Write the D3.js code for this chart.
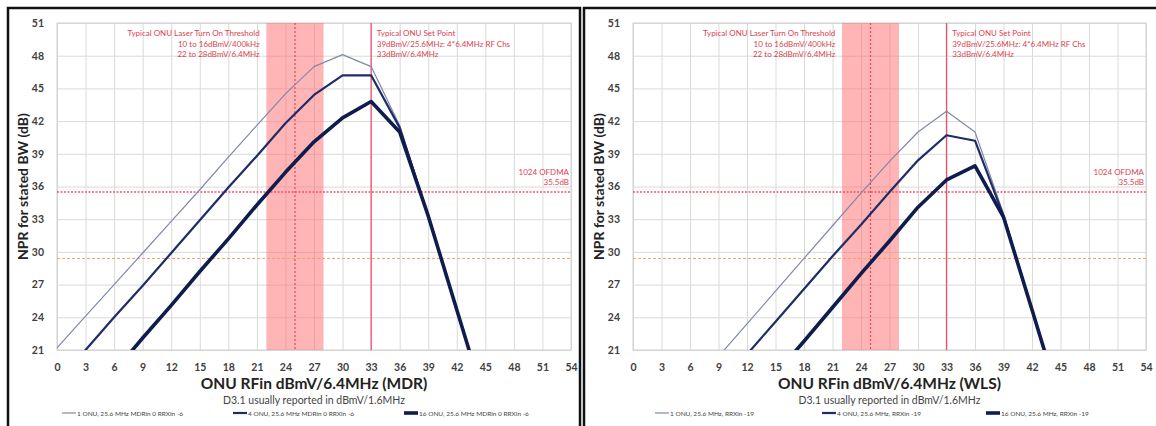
<!DOCTYPE html>
<html>
<head>
<meta charset="utf-8">
<script src="https://cdn.jsdelivr.net/npm/d3@7"></script>
<style>
  body { margin: 0; background: #fff; }
  svg { display: block; font-family: Lato, "Open Sans", sans-serif; }
</style>
</head>
<body>
<svg width="1156" height="426"></svg>
<script>
// x positions of the measured points (dBmV/6.4MHz)
var rfIn = [0, 3, 6, 9, 12, 15, 18, 21, 24, 27, 30, 33, 36, 39, 42, 45];

// MDR panel
var mdr1 = [21.2, 24.1, 27.0, 29.9, 32.8, 35.7, 38.7, 41.6, 44.5, 47.0, 48.1, 47.0, 41.6, 33.3, 24.7, 16.1];
var mdr4 = [18.0, 21.0, 24.0, 26.9, 29.9, 32.9, 35.9, 38.8, 41.8, 44.4, 46.2, 46.2, 41.4, 33.3, 24.7, 16.1];
var mdr16 = [12.8, 15.9, 19.0, 22.1, 25.1, 28.2, 31.2, 34.3, 37.3, 40.1, 42.3, 43.8, 41.0, 33.3, 24.7, 16.1];

// WLS panel
var wls1 = [11.6, 14.6, 17.5, 20.4, 23.4, 26.4, 29.4, 32.4, 35.4, 38.3, 41.0, 42.9, 41.0, 33.5, 24.7, 16.1];
var wls4 = [8.6, 11.6, 14.6, 17.6, 20.6, 23.6, 26.6, 29.6, 32.5, 35.5, 38.4, 40.7, 40.2, 33.3, 24.7, 16.1];
var wls16 = [3.5, 6.5, 9.6, 12.7, 15.8, 18.8, 21.8, 24.9, 28.0, 31.0, 34.1, 36.6, 37.9, 33.2, 24.7, 16.1];

var xTicks = [0, 3, 6, 9, 12, 15, 18, 21, 24, 27, 30, 33, 36, 39, 42, 45, 48, 51, 54];
var yTicks = [21, 24, 27, 30, 33, 36, 39, 42, 45, 48, 51];

var mdrNames = ["1 ONU, 25.6 MHz MDRin 0 RRXin -6", "4 ONU, 25.6 MHz MDRin 0 RRXin -6", "16 ONU, 25.6 MHz MDRin 0 RRXin -6"];
var wlsNames = ["1 ONU, 25.6 MHz, RRXin -19", "4 ONU, 25.6 MHz, RRXin -19", "16 ONU, 25.6 MHz, RRXin -19"];

// marker lines / zones
var laserBand = [22, 28], laserMid = 25, setPoint = 33;
var ofdmaLevel = 35.5, orangeLevel = 29.4;

var lineColors = ["#8188a9", "#1e2c68", "#0f1d4e"],
    lineWidths = [1.2, 2.2, 3.6];
var red = "#e0465c";

var svg = d3.select("svg");

function drawPanel(id, left, plotLeft, plotRight, series, names, xTitle, legendX) {
    var x = d3.scaleLinear().domain([0, 54]).range([plotLeft, plotRight]);
    var y = d3.scaleLinear().domain([21, 51]).range([350, 23]);
    var g = svg.append("g");

    // panel frame
    g.append("rect")
        .attr("x", left).attr("y", 8)
        .attr("width", (id == "a" ? 572 : 575)).attr("height", 430)
        .attr("fill", "none").attr("stroke", "#111").attr("stroke-width", 2.5);

    g.append("clipPath").attr("id", "clip" + id)
      .append("rect")
        .attr("x", x(0)).attr("y", y(51))
        .attr("width", x(54) - x(0)).attr("height", y(21) - y(51));

    // grid
    g.append("g")
        .attr("transform", "translate(0," + y(21) + ")")
        .call(d3.axisBottom(x).tickValues(xTicks).tickSize(-(y(21) - y(51))).tickFormat(""))
        .call(function(a) {
            a.select(".domain").remove();
            a.selectAll(".tick line").attr("stroke", "#dadada");
        });
    g.append("g")
        .attr("transform", "translate(" + x(0) + ",0)")
        .call(d3.axisLeft(y).tickValues(yTicks).tickSize(-(x(54) - x(0))).tickFormat(""))
        .call(function(a) {
            a.select(".domain").remove();
            a.selectAll(".tick line").attr("stroke", "#dadada");
        });
    g.append("rect")
        .attr("x", x(0)).attr("y", y(51))
        .attr("width", x(54) - x(0)).attr("height", y(21) - y(51))
        .attr("fill", "none").attr("stroke", "#d0d0d0");

    // laser turn-on band
    g.append("rect")
        .attr("x", x(laserBand[0])).attr("y", y(51))
        .attr("width", x(laserBand[1]) - x(laserBand[0])).attr("height", y(21) - y(51))
        .attr("fill", "#ff6b6b").attr("opacity", 0.5);
    g.append("line")
        .attr("x1", x(laserMid)).attr("x2", x(laserMid))
        .attr("y1", y(51)).attr("y2", y(21))
        .attr("stroke", red).attr("stroke-width", 1.2).attr("stroke-dasharray", "2,2");
    g.append("line")
        .attr("x1", x(setPoint)).attr("x2", x(setPoint))
        .attr("y1", y(51)).attr("y2", y(21))
        .attr("stroke", "#e8546a").attr("stroke-width", 1.3);

    // horizontal levels
    g.append("line")
        .attr("x1", x(0)).attr("x2", x(54))
        .attr("y1", y(ofdmaLevel)).attr("y2", y(ofdmaLevel))
        .attr("stroke", "#ff4f68").attr("stroke-width", 1.6).attr("stroke-dasharray", "2,1.5");
    g.append("line")
        .attr("x1", x(0)).attr("x2", x(54))
        .attr("y1", y(orangeLevel)).attr("y2", y(orangeLevel))
        .attr("stroke", "#f4a262").attr("stroke-width", 1).attr("stroke-dasharray", "3,2");

    // series
    var line = d3.line()
        .x(function(d, i) { return x(rfIn[i]); })
        .y(function(d) { return y(d); });
    var lines = g.append("g").attr("clip-path", "url(#clip" + id + ")");
    series.forEach(function(s, i) {
        lines.append("path")
            .datum(s)
            .attr("d", line)
            .attr("fill", "none")
            .attr("stroke", lineColors[i])
            .attr("stroke-width", lineWidths[i])
            .attr("stroke-linejoin", "round");
    });

    // axes labels
    g.append("g")
        .attr("transform", "translate(0," + (y(21) + 11) + ")")
        .call(d3.axisBottom(x).tickValues(xTicks).tickSize(0))
        .call(function(a) {
            a.select(".domain").remove();
            a.selectAll(".tick text")
                .attr("font-size", 10.5).attr("font-weight", "bold")
                .attr("fill", "#404040").attr("font-family", "Lato, sans-serif");
        });
    g.append("g")
        .attr("transform", "translate(" + (x(0) - 10) + ",0)")
        .call(d3.axisLeft(y).tickValues(yTicks).tickSize(0))
        .call(function(a) {
            a.select(".domain").remove();
            a.selectAll(".tick text")
                .attr("font-size", 10.5).attr("font-weight", "bold")
                .attr("fill", "#404040").attr("font-family", "Lato, sans-serif");
        });

    g.append("text")
        .attr("transform", "translate(" + (left + 15) + "," + y(36) + ") rotate(-90)")
        .attr("text-anchor", "middle").attr("dy", "0.35em")
        .attr("font-size", 14).attr("font-weight", "bold").attr("fill", "#222")
        .text("NPR for stated BW (dB)");

    g.append("text")
        .attr("x", x(27)).attr("y", 389)
        .attr("text-anchor", "middle")
        .attr("font-size", 15.5).attr("font-weight", "bold").attr("fill", "#222")
        .text(xTitle);
    g.append("text")
        .attr("x", x(27)).attr("y", 404)
        .attr("text-anchor", "middle")
        .attr("font-size", 10.5).attr("fill", "#444")
        .text("D3.1 usually reported in dBmV/1.6MHz");

    // annotations
    var ann = g.append("g").attr("fill", "#d9434f").attr("font-size", 8);
    ["Typical ONU Laser Turn On Threshold", "10 to 16dBmV/400kHz", "22 to 28dBmV/6.4MHz"].forEach(function(t, i) {
        ann.append("text").attr("x", x(21.3)).attr("y", 36 + i * 10.5)
            .attr("text-anchor", "end").text(t);
    });
    ["Typical ONU Set Point", "39dBmV/25.6MHz: 4*6.4MHz RF Chs", "33dBmV/6.4MHz"].forEach(function(t, i) {
        ann.append("text").attr("x", x(33.6)).attr("y", 36 + i * 10.5)
            .attr("text-anchor", "start").text(t);
    });
    ["1024 OFDMA", "35.5dB"].forEach(function(t, i) {
        ann.append("text").attr("x", x(54) - 2).attr("y", y(ofdmaLevel) - 17 + i * 10)
            .attr("text-anchor", "end").text(t);
    });

    // legend
    var lg = g.append("g").attr("font-size", 6.5).attr("fill", "#444");
    names.forEach(function(n, i) {
        var lx = legendX[i];
        lg.append("line")
            .attr("x1", lx).attr("x2", lx + 14)
            .attr("y1", 413).attr("y2", 413)
            .attr("stroke", lineColors[i]).attr("stroke-width", lineWidths[i]);
        lg.append("text").attr("x", lx + 15).attr("y", 415.5).text(n);
    });
}

drawPanel("a", 8, 57, 571, [mdr1, mdr4, mdr16], mdrNames,
    "ONU RFin dBmV/6.4MHz (MDR)", [62, 233, 404]);
drawPanel("b", 584, 633, 1146, [wls1, wls4, wls16], wlsNames,
    "ONU RFin dBmV/6.4MHz (WLS)", [655, 822, 986]);
</script>
</body>
</html>
